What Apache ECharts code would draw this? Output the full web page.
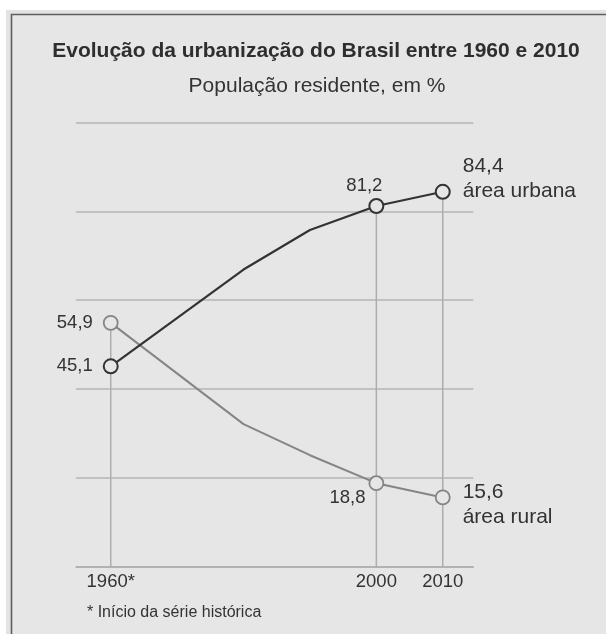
<!DOCTYPE html>
<html>
<head>
<meta charset="utf-8">
<script src="https://cdn.jsdelivr.net/npm/echarts@6/dist/echarts.min.js"></script>
<style>
  html, body { margin: 0; padding: 0; background: #ffffff; }
  #chart { width: 606px; height: 634px; }
</style>
</head>
<body>
<div id="chart"></div>
<script>
// ---- Data ----
const years = [1960, 1980, 1990, 2000, 2010];
const urbana = [45.1, 66.9, 75.8, 81.2, 84.4];
const rural = [54.9, 32.1, 25.1, 18.8, 15.6];
const labeledYears = [1960, 2000, 2010];
const xTickLabels = ['1960*', '2000', '2010'];
const seriesNames = ['área urbana', 'área rural'];
const titleText = 'Evolução da urbanização do Brasil entre 1960 e 2010';
const subtitleText = 'População residente, em %';
const footnoteText = '* Início da série histórica';

// ---- Helpers ----
const FONT = '"Liberation Sans", Arial, Helvetica, sans-serif';
const TXT = '#333333';
const BG = '#e6e6e6';
const fmt = v => v.toFixed(1).replace('.', ',');

function buildItems(values, labelCfg) {
  return years.map((y, i) => {
    const item = { value: [y, values[i]] };
    if (labeledYears.indexOf(y) < 0) {
      item.symbol = 'none';
    } else {
      item.label = Object.assign({
        show: true,
        color: TXT,
        fontFamily: FONT,
        fontSize: 18.5
      }, labelCfg[y]);
    }
    return item;
  });
}

const urbanItems = buildItems(urbana, {
  1960: { position: 'left', distance: 10, formatter: p => fmt(p.value[1]) },
  2000: { position: 'top', distance: 3, offset: [-12, 0], formatter: p => fmt(p.value[1]) },
  2010: { position: 'right', distance: 12, offset: [0, -13], fontSize: 21, lineHeight: 25,
          align: 'left', formatter: p => fmt(p.value[1]) + '\n' + seriesNames[0] }
});
const ruralItems = buildItems(rural, {
  1960: { position: 'left', distance: 10, formatter: p => fmt(p.value[1]) },
  2000: { position: 'left', distance: 3, offset: [0, 15], formatter: p => fmt(p.value[1]) },
  2010: { position: 'right', distance: 12, offset: [0, 7], fontSize: 21, lineHeight: 25,
          align: 'left', formatter: p => fmt(p.value[1]) + '\n' + seriesNames[1] }
});

const dropData = labeledYears.map(y => {
  const i = years.indexOf(y);
  return [y, Math.max(urbana[i], rural[i])];
});

const chart = echarts.init(document.getElementById('chart'), null, { renderer: 'canvas' });

chart.setOption({
  backgroundColor: '#ffffff',
  animation: false,
  graphic: [
    { type: 'rect', z: -10, silent: true,
      shape: { x: 6, y: 10, width: 640, height: 660 },
      style: { fill: '#e3e3e3' } },
    { type: 'rect', z: -9, silent: true,
      shape: { x: 11.5, y: 14.5, width: 640, height: 660 },
      style: { fill: BG, stroke: '#5e5e5e', lineWidth: 1.6 } },
    { type: 'text', silent: true, left: 87, top: 605,
      style: { text: footnoteText, fill: TXT, font: '16px ' + FONT } }
  ],
  title: [
    { text: titleText, left: 316, top: 41, textAlign: 'center', padding: 0,
      textStyle: { fontFamily: FONT, fontSize: 21, fontWeight: 'bold', color: '#2e2e2e' } },
    { text: subtitleText, left: 317, top: 76, textAlign: 'center', padding: 0,
      textStyle: { fontFamily: FONT, fontSize: 21, fontWeight: 'normal', color: TXT } }
  ],
  grid: { left: 76, right: 132.7, top: 122.5, bottom: 67.3, containLabel: false },
  xAxis: {
    type: 'value',
    min: 1954.77,
    max: 2014.6,
    axisLine: { show: true, lineStyle: { color: '#adadad', width: 1.5 } },
    axisTick: { show: false },
    splitLine: { show: false },
    axisLabel: {
      show: true,
      customValues: labeledYears,
      margin: 6,
      color: TXT,
      fontFamily: FONT,
      fontSize: 18.5,
      formatter: v => xTickLabels[labeledYears.indexOf(v)] || ''
    }
  },
  yAxis: {
    type: 'value',
    min: 0,
    max: 100,
    interval: 20,
    axisLine: { show: false },
    axisTick: { show: false },
    axisLabel: { show: false },
    splitLine: { show: true, lineStyle: { color: '#b4b4b4', width: 1.5 } }
  },
  series: [
    {
      type: 'bar',
      name: 'drop',
      data: dropData,
      barWidth: 1.5,
      silent: true,
      z: 1,
      itemStyle: { color: '#adadad' }
    },
    {
      type: 'line',
      name: seriesNames[1],
      data: ruralItems,
      z: 3,
      symbol: 'circle',
      symbolSize: 14,
      showAllSymbol: true,
      lineStyle: { color: '#858585', width: 2 },
      itemStyle: { color: BG, borderColor: '#858585', borderWidth: 1.8 }
    },
    {
      type: 'line',
      name: seriesNames[0],
      data: urbanItems,
      z: 4,
      symbol: 'circle',
      symbolSize: 14,
      showAllSymbol: true,
      lineStyle: { color: '#333333', width: 2.2 },
      itemStyle: { color: BG, borderColor: '#333333', borderWidth: 2 }
    }
  ]
});
</script>
</body>
</html>
